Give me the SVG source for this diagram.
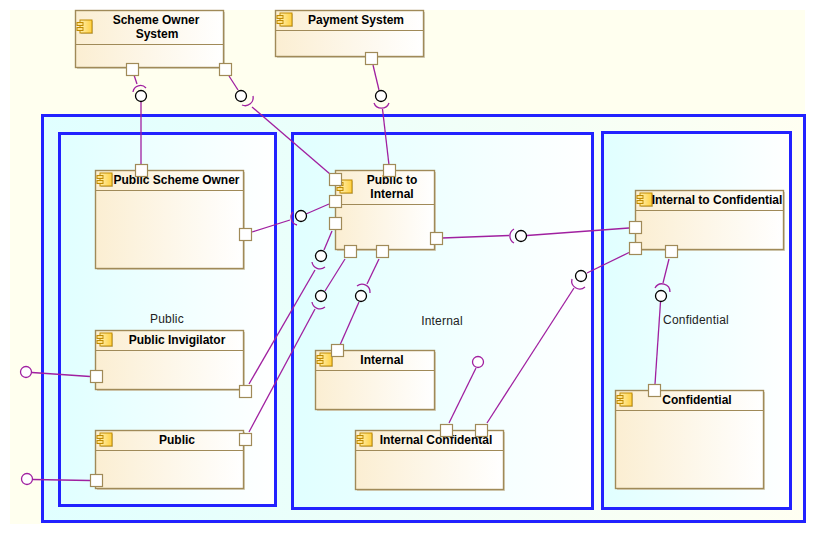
<svg xmlns="http://www.w3.org/2000/svg" width="816" height="533" viewBox="0 0 816 533">
<style>
.pkg{stroke:#2222ff;stroke-width:3}
.box{fill:url(#gb);stroke:#a08a58;stroke-width:1.4}
.shadow{fill:#d8d2c0}
.div{stroke:#a08a58;stroke-width:1.2;fill:none}
.port{fill:#fff;stroke:#a08a58;stroke-width:1.2}
.t{font:bold 12px "Liberation Sans",Arial,sans-serif;fill:#000;text-anchor:middle}
.l{font:12px "Liberation Sans",Arial,sans-serif;fill:#222;text-anchor:middle;letter-spacing:.2px}
.c line,.c path{stroke:#a020a0;stroke-width:1.3;fill:none}
.ball{fill:#fff;stroke:#000;stroke-width:1.3}
.open{fill:#fff;stroke:#a020a0;stroke-width:1.3}
</style>
<defs>
<linearGradient id="gb"><stop offset="0" stop-color="#fbeed2"/><stop offset="1" stop-color="#ffffff"/></linearGradient>
<linearGradient id="go"><stop offset="0" stop-color="#e0ffff"/><stop offset="1" stop-color="#fffff2"/></linearGradient>
<linearGradient id="gi"><stop offset="0" stop-color="#e0ffff"/><stop offset="1" stop-color="#ffffff"/></linearGradient>
<linearGradient id="gic"><stop offset="0" stop-color="#fff0b0"/><stop offset="1" stop-color="#ffd040"/></linearGradient>
<g id="icon">
<rect x="6" y="2" width="12" height="13" fill="#c8c4b0"/>
<rect x="5" y="1" width="12" height="13" fill="url(#gic)" stroke="#c08a00"/>
<rect x="2" y="3.500" width="6" height="3" fill="#ffe28a" stroke="#c08a00"/>
<rect x="2" y="8.500" width="6" height="3" fill="#ffe28a" stroke="#c08a00"/>
</g>
</defs>
<rect width="816" height="533" fill="#fff"/>
<rect x="10" y="10" width="795" height="514" fill="#ffffef"/>
<g id="packages">
<rect id="pkg-outer" class="pkg" x="42.500" y="115.500" width="762" height="406" fill="url(#go)"/>
<rect id="pkg-public" class="pkg" x="59.500" y="133.500" width="216" height="372" fill="url(#gi)"/>
<rect id="pkg-internal" class="pkg" x="292.500" y="133.500" width="300" height="375" fill="url(#gi)"/>
<rect id="pkg-confidential" class="pkg" x="602.500" y="132.500" width="188" height="376" fill="url(#gi)"/>
<text class="l" x="167" y="323">Public</text>
<text class="l" x="442" y="325">Internal</text>
<text class="l" x="696" y="324">Confidential</text>
</g>
<g id="n-scheme-owner-system">
<rect class="shadow" x="77" y="12" width="148" height="57"/>
<rect class="box" x="75.500" y="10.500" width="148" height="57"/>
<path class="div" d="M76 44.500H223"/>
<use href="#icon" x="75" y="19"/>
<text class="t" x="156" y="24">Scheme Owner</text><text class="t" x="157" y="38">System</text>
</g>
<g id="n-payment-system">
<rect class="shadow" x="277" y="12" width="148" height="46"/>
<rect class="box" x="275.500" y="10.500" width="148" height="46"/>
<path class="div" d="M276 30.500H423"/>
<use href="#icon" x="275" y="12"/>
<text class="t" x="356" y="24">Payment System</text>
</g>
<g id="n-public-scheme-owner">
<rect class="shadow" x="97" y="172" width="148" height="98"/>
<rect class="box" x="95.500" y="170.500" width="148" height="98"/>
<path class="div" d="M96 190.500H243"/>
<use href="#icon" x="95" y="172"/>
<text class="t" x="176.500" y="184">Public Scheme Owner</text>
</g>
<g id="n-public-to-internal">
<rect class="shadow" x="337" y="172" width="99" height="79"/>
<rect class="box" x="335.500" y="170.500" width="99" height="79"/>
<path class="div" d="M336 204.500H434"/>
<use href="#icon" x="335" y="179"/>
<text class="t" x="392" y="184">Public to</text><text class="t" x="392" y="198">Internal</text>
</g>
<g id="n-internal-to-confidential">
<rect class="shadow" x="637" y="192" width="148" height="59"/>
<rect class="box" x="635.500" y="190.500" width="148" height="59"/>
<path class="div" d="M636 210.500H783"/>
<use href="#icon" x="635" y="192"/>
<text class="t" x="717" y="204">Internal to Confidential</text>
</g>
<g id="n-public-invigilator">
<rect class="shadow" x="97" y="332" width="148" height="59"/>
<rect class="box" x="95.500" y="330.500" width="148" height="59"/>
<path class="div" d="M96 350.500H243"/>
<use href="#icon" x="95" y="332"/>
<text class="t" x="177" y="344">Public Invigilator</text>
</g>
<g id="n-public">
<rect class="shadow" x="97" y="432" width="148" height="58"/>
<rect class="box" x="95.500" y="430.500" width="148" height="58"/>
<path class="div" d="M96 450.500H243"/>
<use href="#icon" x="95" y="432"/>
<text class="t" x="177" y="444">Public</text>
</g>
<g id="n-internal">
<rect class="shadow" x="317" y="352" width="119" height="59"/>
<rect class="box" x="315.500" y="350.500" width="119" height="59"/>
<path class="div" d="M316 370.500H434"/>
<use href="#icon" x="315" y="352"/>
<text class="t" x="382" y="364">Internal</text>
</g>
<g id="n-internal-confidential">
<rect class="shadow" x="357" y="432" width="148" height="59"/>
<rect class="box" x="355.500" y="430.500" width="148" height="59"/>
<path class="div" d="M356 450.500H503"/>
<use href="#icon" x="355" y="432"/>
<text class="t" x="436" y="444">Internal Confidental</text>
</g>
<g id="n-confidential">
<rect class="shadow" x="617" y="392" width="148" height="98"/>
<rect class="box" x="615.500" y="390.500" width="148" height="98"/>
<path class="div" d="M616 410.500H763"/>
<use href="#icon" x="615" y="392"/>
<text class="t" x="697" y="404">Confidential</text>
</g>
<g id="connectors" class="c">
<line x1="134" y1="75" x2="137" y2="84"/>
<path d="M133 92A7.500 7.500 0 0 1 146 88"/>
<line x1="141" y1="102" x2="141" y2="165"/>
<line x1="229" y1="76" x2="238" y2="90"/>
<path d="M242 105A8 8 0 0 0 253 96"/>
<line x1="252" y1="107" x2="330" y2="174"/>
<line x1="373" y1="65" x2="379" y2="90"/>
<path d="M374 103A8 8 0 0 0 389 103"/>
<line x1="382.500" y1="109" x2="389" y2="165"/>
<line x1="252" y1="232" x2="290" y2="220"/>
<path d="M293 212A8 8 0 0 0 297 225"/>
<line x1="306" y1="214" x2="329" y2="204"/>
<line x1="332" y1="231" x2="324" y2="250"/>
<path d="M312 262A8 8 0 0 0 325 267"/>
<line x1="315" y1="270" x2="249" y2="384"/>
<line x1="345" y1="259" x2="325" y2="291"/>
<path d="M312 302A8 8 0 0 0 325 307"/>
<line x1="315" y1="309" x2="249" y2="432"/>
<line x1="379" y1="259" x2="367" y2="284"/>
<path d="M357 286A8 8 0 0 1 370 293"/>
<line x1="359" y1="302" x2="340" y2="345"/>
<line x1="442" y1="238" x2="509" y2="235.500"/>
<path d="M514 229A8 8 0 0 0 514 243"/>
<line x1="527" y1="235.500" x2="629" y2="228"/>
<line x1="587" y1="273" x2="629" y2="252.500"/>
<path d="M572 279A8 8 0 0 0 585 287"/>
<line x1="574" y1="288" x2="487" y2="423"/>
<line x1="669" y1="259" x2="663" y2="283"/>
<path d="M655 288A8 8 0 0 1 670 292"/>
<line x1="660.500" y1="302" x2="655" y2="384"/>
<line x1="32" y1="372.500" x2="90" y2="376.500"/>
<line x1="33" y1="479.500" x2="90" y2="480.500"/>
<line x1="476" y1="368" x2="449" y2="423"/>
</g>
<g id="interfaces">
<circle class="ball" cx="141" cy="96" r="5.500"/>
<circle class="ball" cx="241" cy="96" r="5.500"/>
<circle class="ball" cx="381" cy="96" r="5.500"/>
<circle class="ball" cx="301" cy="216" r="5.500"/>
<circle class="ball" cx="321" cy="256" r="5.500"/>
<circle class="ball" cx="321" cy="296" r="5.500"/>
<circle class="ball" cx="361" cy="296" r="5.500"/>
<circle class="ball" cx="521" cy="236" r="5.500"/>
<circle class="ball" cx="581" cy="276" r="5.500"/>
<circle class="ball" cx="661" cy="296" r="5.500"/>
<circle class="open" cx="26" cy="372" r="5.500"/>
<circle class="open" cx="27" cy="479" r="5.500"/>
<circle class="open" cx="478" cy="362" r="5.500"/>
</g>
<g id="ports">
<rect class="port" x="126.500" y="63.500" width="12" height="12"/>
<rect class="port" x="219.500" y="63.500" width="12" height="12"/>
<rect class="port" x="365.500" y="52.500" width="12" height="12"/>
<rect class="port" x="135.500" y="164.500" width="12" height="12"/>
<rect class="port" x="239.500" y="228.500" width="12" height="12"/>
<rect class="port" x="383.500" y="164.500" width="12" height="12"/>
<rect class="port" x="329.500" y="173.500" width="12" height="12"/>
<rect class="port" x="329.500" y="195.500" width="12" height="12"/>
<rect class="port" x="329.500" y="217.500" width="12" height="12"/>
<rect class="port" x="344.500" y="245.500" width="12" height="12"/>
<rect class="port" x="376.500" y="245.500" width="12" height="12"/>
<rect class="port" x="430.500" y="232.500" width="12" height="12"/>
<rect class="port" x="629.500" y="221.500" width="12" height="12"/>
<rect class="port" x="629.500" y="242.500" width="12" height="12"/>
<rect class="port" x="665.500" y="245.500" width="12" height="12"/>
<rect class="port" x="648.500" y="384.500" width="12" height="12"/>
<rect class="port" x="90.500" y="370.500" width="12" height="12"/>
<rect class="port" x="239.500" y="385.500" width="12" height="12"/>
<rect class="port" x="239.500" y="433.500" width="12" height="12"/>
<rect class="port" x="90.500" y="474.500" width="12" height="12"/>
<rect class="port" x="331.500" y="344.500" width="12" height="12"/>
<rect class="port" x="440.500" y="424.500" width="12" height="12"/>
<rect class="port" x="475.500" y="424.500" width="12" height="12"/>
</g>
</svg>
